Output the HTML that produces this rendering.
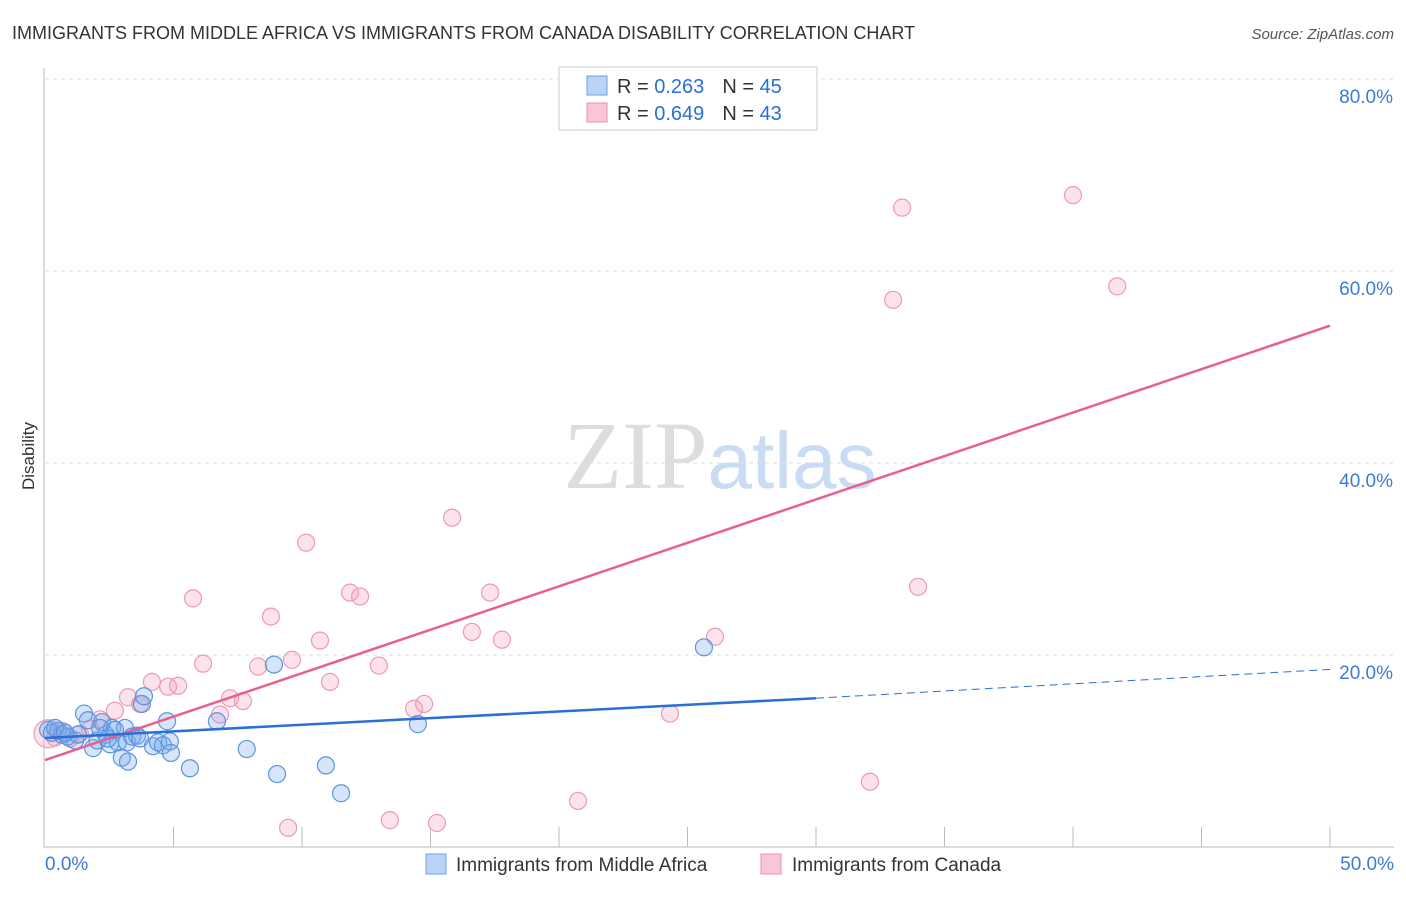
<!DOCTYPE html>
<html><head><meta charset="utf-8"><style>
body{margin:0;background:#fff;font-family:"Liberation Sans",sans-serif}
</style></head><body>
<svg id="chart" width="1406" height="892" xmlns="http://www.w3.org/2000/svg" font-family="Liberation Sans, sans-serif">
<text x="12" y="39" font-size="18" fill="#333">IMMIGRANTS FROM MIDDLE AFRICA VS IMMIGRANTS FROM CANADA DISABILITY CORRELATION CHART</text>
<text x="1394" y="39" font-size="15" fill="#555" text-anchor="end" font-style="italic">Source: ZipAtlas.com</text>
<text x="720" y="488" font-size="96" text-anchor="middle"><tspan fill="#ddd" font-family="Liberation Serif, serif">ZIP</tspan><tspan fill="#c9dcf3" font-size="80">atlas</tspan></text>
<g id="grid"></g>
<g id="axes"></g>
<g id="marks"></g>
<text transform="translate(34,456) rotate(-90)" font-size="17" fill="#333" text-anchor="middle">Disability</text>
<g>
<rect x="559" y="67" width="258" height="63" fill="#fff" stroke="#ccc"/>
<rect x="587" y="76" width="20" height="19" fill="#b8d3f5" stroke="#6a9fe0"/>
<rect x="587" y="103" width="20" height="19" fill="#f9c6d6" stroke="#e890ae"/>
<text x="617" y="93" font-size="20" fill="#333">R = <tspan fill="#2a6fd6">0.263</tspan><tspan dx="18">N = </tspan><tspan fill="#2a6fd6">45</tspan></text>
<text x="617" y="120" font-size="20" fill="#333">R = <tspan fill="#2a6fd6">0.649</tspan><tspan dx="18">N = </tspan><tspan fill="#2a6fd6">43</tspan></text>
</g>
<g>
<rect x="426" y="854" width="20" height="20" fill="#b8d3f5" stroke="#6a9fe0"/>
<text x="456" y="871" font-size="19" fill="#333">Immigrants from Middle Africa</text>
<rect x="761" y="854" width="20" height="20" fill="#f9c6d6" stroke="#e890ae"/>
<text x="792" y="871" font-size="19" fill="#333">Immigrants from Canada</text>
</g>
</svg>
<script>
const yTicks=[20,40,60,80];
const yTickLabels=["20.0%","40.0%","60.0%","80.0%"];
const xTicks=[0,5,10,15,20,25,30,35,40,45,50];
const blueX=[0.12,0.27,0.51,0.66,0.89,1.17,1.28,1.52,1.67,1.87,2.04,2.22,2.37,2.53,2.61,2.84,2.99,3.11,3.23,3.19,3.39,3.58,3.77,3.85,4.2,4.4,4.59,4.75,4.86,4.9,5.64,6.69,7.85,8.91,9.03,10.93,11.52,14.51,25.64,0.39,0.78,2.14,2.45,2.72,3.7];
const blueY=[12.2,11.9,12.1,11.7,11.5,11.1,11.7,13.9,13.2,10.3,11.1,13.0,11.7,10.7,12.4,10.9,9.3,12.4,8.9,10.9,11.5,11.6,14.9,15.7,10.5,10.9,10.6,13.1,11.0,9.8,8.2,13.1,10.2,19.0,7.6,8.5,5.6,12.8,20.8,12.4,11.9,12.4,11.3,12.2,11.3];
const pinkX=[0.12,0.39,0.66,0.97,1.36,1.75,2.14,2.72,3.23,3.7,4.16,4.79,5.18,5.76,6.15,6.81,7.2,7.7,8.29,8.79,9.46,9.61,10.16,10.7,11.09,11.87,12.26,12.99,13.42,14.36,14.75,15.25,15.84,16.61,17.32,17.78,20.74,24.32,26.07,32.1,33.0,33.35,33.97];
const pinkY=[11.8,11.4,12.1,11.3,11.8,12.3,13.3,14.2,15.6,14.9,17.2,16.7,16.8,25.9,19.1,13.8,15.5,15.2,18.8,24.0,2.0,19.5,31.7,21.5,17.2,26.5,26.1,18.9,2.8,14.4,14.9,2.5,34.3,22.4,26.5,21.6,4.8,13.9,21.9,6.8,57.0,66.6,27.1];
const pinkX2=[40.0,41.72];
const pinkY2=[67.9,58.4];
const blueLine=[[0,11.35],[30,15.5],[50,18.5]];
const pinkLine=[[0,9.06],[50,54.3]];
const X=v=>45+v*25.7, Y=v=>847-v*9.6;
const NS="http://www.w3.org/2000/svg";
function mk(tag,attrs,parent){const e=document.createElementNS(NS,tag);for(const k in attrs)e.setAttribute(k,attrs[k]);parent.appendChild(e);return e;}
const grid=document.getElementById('grid'),axes=document.getElementById('axes'),marks=document.getElementById('marks');
yTicks.forEach((t,i)=>{
 const l=mk('line',{x1:45,x2:1394,y1:Y(t),y2:Y(t),stroke:'#ddd','stroke-dasharray':'4,4'},grid);
 
 
 const tx=mk('text',{x:1393,y:Y(t)+24,'font-size':19,fill:'#3d7ad8','text-anchor':'end'},axes);
 tx.textContent=yTickLabels[i];
 
 
});
const ax=mk('path',{d:'M44,68 V847 H1394',fill:'none',stroke:'#bbb'},axes);


xTicks.forEach(t=>{if(t===0)return;
 const l=mk('line',{x1:X(t),x2:X(t),y1:827,y2:847,stroke:'#bbb'},axes);
 
 
});
[[0,'0.0%','start',45],[50,'50.0%','end',1394]].forEach(a=>{
 const t=mk('text',{x:a[3],y:870,'font-size':19,fill:'#3d7ad8','text-anchor':a[2]},axes);t.textContent=a[1];
 
 
});
function dot(x,y,cls,r){
 const c=mk('circle',{cx:X(x),cy:Y(y),r:r||8.5,fill:cls==='b'?'rgba(120,170,235,0.3)':'rgba(245,160,190,0.3)',stroke:cls==='b'?'#5a95e0':'#ec9ab6','stroke-width':1.2},marks);
 
 
}
pinkX.forEach((x,i)=>dot(x,pinkY[i],'p',i===0?14:8.5));
pinkX2.forEach((x,i)=>dot(x,pinkY2[i],'p'));
blueX.forEach((x,i)=>dot(x,blueY[i],'b'));
const pl=mk('line',{x1:X(pinkLine[0][0]),y1:Y(pinkLine[0][1]),x2:X(pinkLine[1][0]),y2:Y(pinkLine[1][1]),stroke:'#e8608e','stroke-width':2.5},marks);


const bl=mk('line',{x1:X(blueLine[0][0]),y1:Y(blueLine[0][1]),x2:X(blueLine[1][0]),y2:Y(blueLine[1][1]),stroke:'#2a6fd6','stroke-width':2.5},marks);


const bd=mk('line',{x1:X(blueLine[1][0]),y1:Y(blueLine[1][1]),x2:X(blueLine[2][0]),y2:Y(blueLine[2][1]),stroke:'#2a6fd6','stroke-width':1,'stroke-dasharray':'8,5'},marks);


</script>
</body></html>
